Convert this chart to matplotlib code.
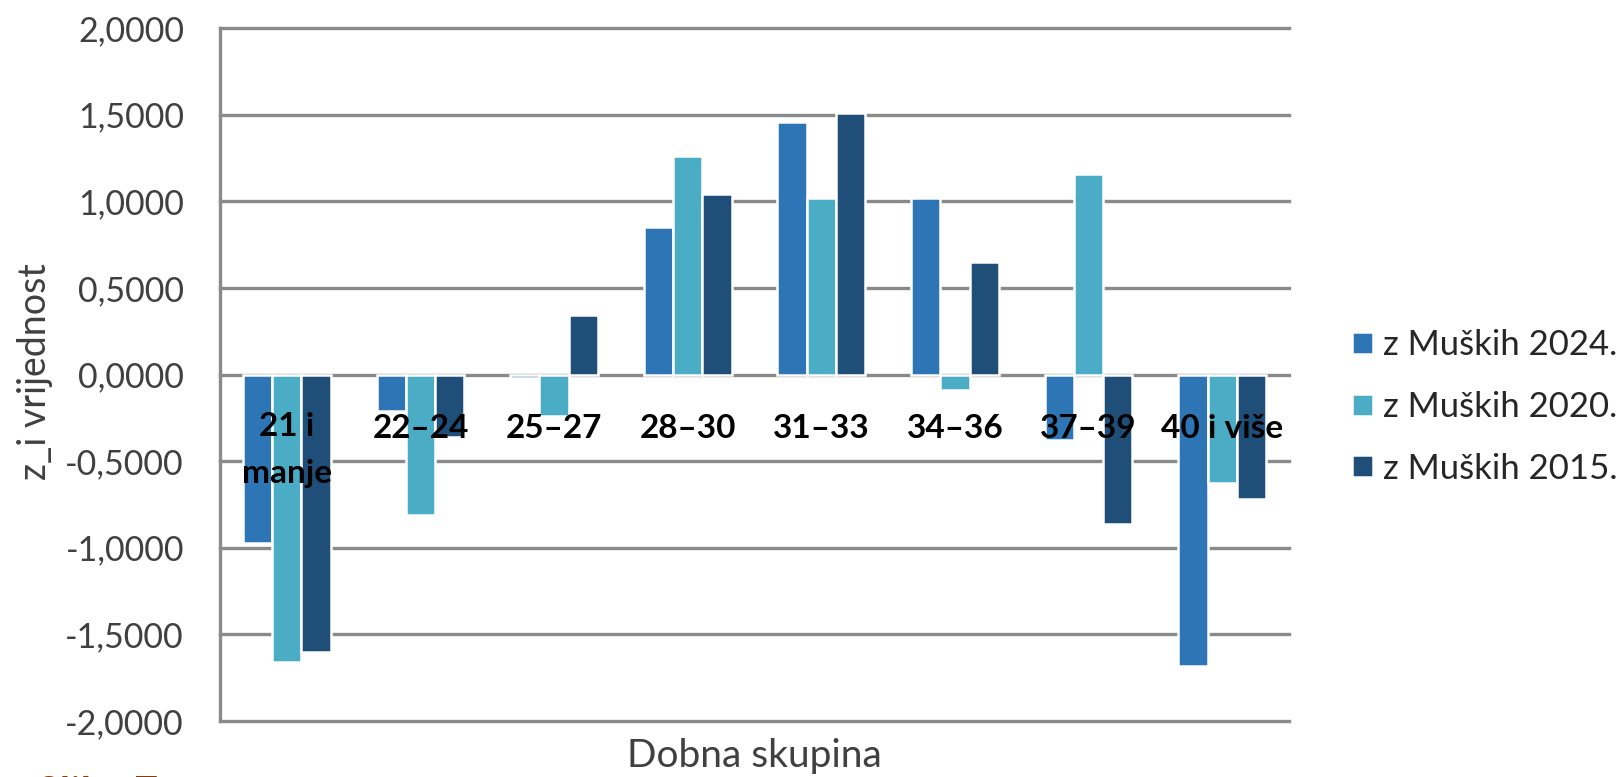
import numpy as np
import matplotlib
matplotlib.use("Agg")
import matplotlib.pyplot as plt
from matplotlib.ticker import FuncFormatter

plt.rcParams['font.family'] = ['Lato', 'DejaVu Sans']

# z_i values per age group
groups = ["21 i\nmanje", "22–24", "25–27", "28–30", "31–33", "34–36", "37–39", "40 i više"]
z_2024 = [-0.97, -0.21, -0.02, 0.85, 1.46, 1.02, -0.38, -1.68]
z_2020 = [-1.66, -0.81, -0.24, 1.26, 1.02, -0.09, 1.155, -0.625]
z_2015 = [-1.60, -0.36, 0.345, 1.04, 1.51, 0.65, -0.865, -0.72]
series = ["z Muških 2024.", "z Muških 2020.", "z Muških 2015."]
colors = ["#2E75B6", "#4BACC6", "#1F4E79"]
yticks = [-2.0, -1.5, -1.0, -0.5, 0.0, 0.5, 1.0, 1.5, 2.0]

W, H = 1623, 777
fig = plt.figure(figsize=(W/100, H/100), dpi=100)
ax = fig.add_axes([220/W, 1-721/H, (1289-220)/W, (721-28)/H])

x = np.arange(len(groups))
bw = 0.219
for i, (vals, lab, c) in enumerate(zip([z_2024, z_2020, z_2015], series, colors)):
    ax.bar(x + (i-1)*bw, vals, width=bw, color=c, edgecolor="white",
           linewidth=1.8, label=lab, zorder=2)

# gridlines incl. the frame lines at +-2
for t in yticks:
    ax.axhline(t, color="#8a8a8a", lw=2.4, zorder=1, clip_on=False)

ax.set_xlim(-0.5, len(groups)-0.5)
ax.set_ylim(-2, 2)
ax.set_yticks(yticks)
ax.yaxis.set_major_formatter(FuncFormatter(lambda v, p: f"{v:.4f}".replace(".", ",").replace("-0,0000", "0,0000")))
ax.tick_params(axis="y", length=0, pad=26, labelsize=24.5, labelcolor="#404040")
ax.set_xticks([])
for s in ["top", "right", "bottom"]:
    ax.spines[s].set_visible(False)
ax.spines["left"].set_color("#8a8a8a")
ax.spines["left"].set_linewidth(2.4)

# category labels sit just under the zero line; baseline goes to the last line,
# so wrapped labels are pushed down by one line per extra line
line_gap = 0.26
for xi, g in zip(x, groups):
    ax.text(xi, -0.365 - line_gap*g.count("\n"), g, ha="center", va="baseline", fontsize=24,
            fontweight="bold", color="black", linespacing=1.75, zorder=3)

fig.text(35/W, 1-372/H, "z_i vrijednost", rotation=90, ha="center", va="center",
         fontsize=27, color="#404040")
fig.text(754/W, 1-756/H, "Dobna skupina", ha="center", va="center",
         fontsize=28, color="#404040")
fig.text(37/W, 1-776/H, "Slika 7.", ha="left", va="top", fontsize=30,
         fontweight="bold", color="#843C0C")

ax.legend(loc="center left", bbox_to_anchor=(1352/W, 1-407/H), bbox_transform=fig.transFigure,
          frameon=False, fontsize=25, handlelength=0.6, handleheight=0.6,
          handletextpad=0.3, labelspacing=0.85, borderpad=0, borderaxespad=0,
          labelcolor="#262626")

fig.savefig("out.png", dpi=100, facecolor="white")
